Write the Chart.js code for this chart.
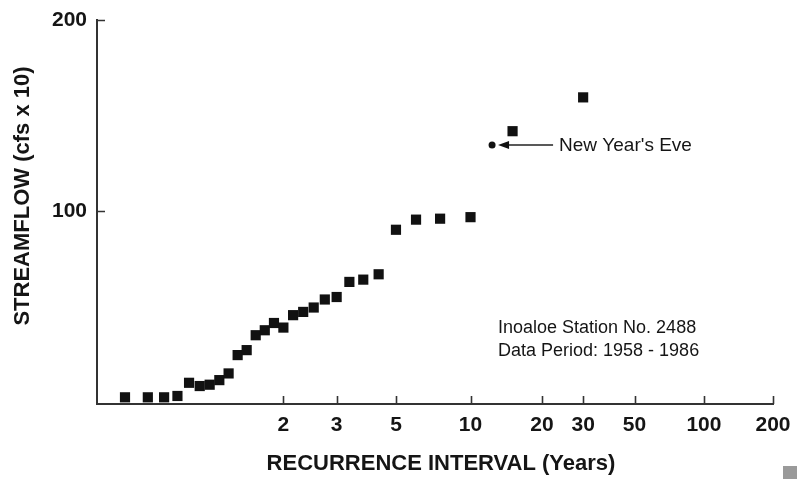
<!DOCTYPE html>
<html>
<head>
<meta charset="utf-8">
<script src="https://cdn.jsdelivr.net/npm/chart.js@4"></script>
<style>
  html, body { margin: 0; padding: 0; background: #ffffff; }
  #wrap { width: 797px; height: 485px; }
</style>
</head>
<body>
<div id="wrap"><canvas id="chart" width="797" height="485"></canvas></div>
<script>
// Ranked annual peak streamflow, Inoaloe station, plotted at its recurrence interval
const recurrenceYears = [1.034, 1.071, 1.111, 1.154, 1.2, 1.25, 1.304, 1.364, 1.429, 1.5,
                         1.579, 1.667, 1.765, 1.875, 2.0, 2.143, 2.308, 2.5, 2.727, 3.0,
                         3.333, 3.75, 4.286, 5.0, 6.0, 7.5, 10, 15, 30];
const streamflow = [2.5, 2.5, 2.5, 3.2, 10.1, 8.4, 9.1, 11.5, 15.0, 24.6,
                    27.2, 35.0, 37.6, 41.4, 39.0, 45.5, 47.2, 49.5, 53.7, 55.0,
                    62.9, 64.1, 66.9, 90.2, 95.5, 96.0, 96.8, 141.8, 159.5];

// The New Year's Eve storm, marked separately
const eventYears = [12.3];
const eventFlow = [134.6];
const eventLabel = "New Year's Eve";

const xTickYears = [2, 3, 5, 10, 20, 30, 50, 100, 200];
const yTickValues = [100, 200];
const xTitle = 'RECURRENCE INTERVAL (Years)';
const yTitle = 'STREAMFLOW (cfs x 10)';
const noteLines = ['Inoaloe Station No. 2488', 'Data Period: 1958 - 1986'];

// Gumbel (extreme value) probability paper: reduced variate of the recurrence interval
const gumbel = T => -Math.log(-Math.log(1 - 1 / T));
const toPoints = (years, flows) => years.map((t, i) => ({ x: gumbel(t), y: flows[i] }));

const FONT = '"Liberation Sans", Arial, Helvetica, sans-serif';
const INK = '#151515';
const AXIS = '#333333';

Chart.defaults.font.family = FONT;

const decorations = {
  id: 'decorations',
  afterDraw(chart) {
    const { ctx, chartArea: ca, scales: { x: xs, y: ys } } = chart;
    ctx.save();

    // tick marks pointing into the plot
    ctx.strokeStyle = AXIS;
    ctx.lineWidth = 1.6;
    ctx.beginPath();
    xs.ticks.forEach(t => {
      const px = Math.round(xs.getPixelForValue(t.value)) + 0.5;
      ctx.moveTo(px, ca.bottom);
      ctx.lineTo(px, ca.bottom - 8);
    });
    ys.ticks.forEach(t => {
      const py = Math.round(ys.getPixelForValue(t.value)) + 0.5;
      ctx.moveTo(ca.left, py);
      ctx.lineTo(ca.left + 8, py);
    });
    ctx.stroke();

    // axis titles
    ctx.fillStyle = INK;
    ctx.font = 'bold 22px ' + FONT;
    ctx.textAlign = 'center';
    ctx.textBaseline = 'alphabetic';
    ctx.fillText(xTitle, 441, 470);

    ctx.save();
    ctx.translate(29, 196);
    ctx.rotate(-Math.PI / 2);
    ctx.fillText(yTitle, 0, 0);
    ctx.restore();

    // arrow and label for the New Year's Eve event
    const ev = chart.getDatasetMeta(1).data[0];
    const ex = ev.x, ey = ev.y;
    ctx.strokeStyle = '#222';
    ctx.lineWidth = 1.5;
    ctx.beginPath();
    ctx.moveTo(ex + 12, ey);
    ctx.lineTo(ex + 61, ey);
    ctx.stroke();
    ctx.fillStyle = '#111';
    ctx.beginPath();
    ctx.moveTo(ex + 6, ey);
    ctx.lineTo(ex + 17, ey - 4);
    ctx.lineTo(ex + 17, ey + 4);
    ctx.closePath();
    ctx.fill();

    ctx.fillStyle = INK;
    ctx.font = '19px ' + FONT;
    ctx.textAlign = 'left';
    ctx.textBaseline = 'middle';
    ctx.fillText(eventLabel, ex + 67, ey + 1);

    // station note
    ctx.font = '18px ' + FONT;
    ctx.textBaseline = 'alphabetic';
    noteLines.forEach((line, i) => ctx.fillText(line, 498, 333 + i * 23));

    // small grey block in the lower right corner
    ctx.fillStyle = '#9a9a9a';
    ctx.fillRect(783, 466, 14, 13);

    ctx.restore();
  }
};

new Chart(document.getElementById('chart'), {
  type: 'scatter',
  data: {
    datasets: [
      {
        data: toPoints(recurrenceYears, streamflow),
        pointStyle: 'rect',
        pointRadius: 7.2,
        pointHoverRadius: 7.2,
        backgroundColor: '#111111',
        borderColor: '#111111',
        borderWidth: 0
      },
      {
        data: toPoints(eventYears, eventFlow),
        pointStyle: 'circle',
        pointRadius: 3.5,
        pointHoverRadius: 3.5,
        backgroundColor: '#111111',
        borderColor: '#111111',
        borderWidth: 0
      }
    ]
  },
  options: {
    responsive: false,
    animation: false,
    events: [],
    layout: { padding: { top: 20, right: 24, bottom: 0, left: 0 } },
    plugins: {
      legend: { display: false },
      tooltip: { enabled: false }
    },
    scales: {
      x: {
        type: 'linear',
        min: -1.51,
        max: gumbel(200),
        afterBuildTicks: s => { s.ticks = xTickYears.map(t => ({ value: gumbel(t) })); },
        afterFit: s => { s.height = 81; s.paddingLeft = 0; s.paddingRight = 0; },
        grid: { display: false, drawTicks: false },
        border: { display: true, color: AXIS, width: 2 },
        ticks: {
          autoSkip: false,
          maxRotation: 0,
          minRotation: 0,
          padding: 9,
          color: INK,
          font: { size: 21, weight: 'bold' },
          callback: (v, i) => String(xTickYears[i])
        }
      },
      y: {
        type: 'linear',
        min: -1,
        max: 200,
        afterBuildTicks: s => { s.ticks = yTickValues.map(v => ({ value: v })); },
        afterFit: s => { s.width = 97; s.paddingTop = 0; s.paddingBottom = 0; },
        grid: { display: false, drawTicks: false },
        border: { display: true, color: AXIS, width: 2 },
        ticks: {
          padding: 10,
          color: INK,
          font: { size: 21, weight: 'bold' },
          callback: v => String(v)
        }
      }
    }
  },
  plugins: [decorations]
});
</script>
</body>
</html>
